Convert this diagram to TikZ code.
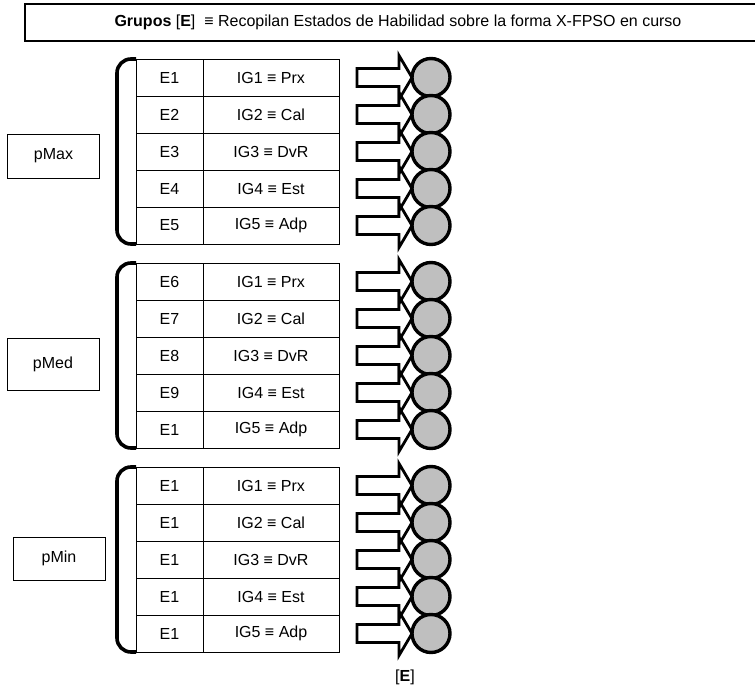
\documentclass[tikz,border=0pt]{standalone}
\usepackage{fontspec}
\setmainfont{Liberation Sans}
\usetikzlibrary{positioning,calc}

% abreviatura de cada indicador
\newcommand{\abrev}[1]{\ifcase#1\or Prx\or Cal\or DvR\or Est\or Adp\fi}

\begin{document}
\begin{tikzpicture}[
    x=1pt, y=-1pt,
    celda/.style={rectangle, draw, line width=0.9pt, outer sep=0pt, inner sep=0pt, minimum height=37pt, font=\fontsize{16}{18}\selectfont},
    estado/.style={celda, minimum width=67pt},
    indicador/.style={celda, minimum width=136pt},
    nivel/.style={rectangle, draw, line width=1pt, minimum width=92pt, font=\fontsize{16}{18}\selectfont},
    llave/.style={line width=3.6pt, rounded corners=14pt},
    flecha/.style={draw, line width=2.8pt, line join=miter},
    esfera/.style={circle, draw, line width=3.4pt, fill=black!25, minimum size=38pt, inner sep=0pt}
]
\useasboundingbox (0,0) rectangle (755,685);

% Cabecera
\draw[line width=1.6pt] (25,4) rectangle (775,41);
\node[font=\fontsize{16}{18}\selectfont] (titulo) at (398,22.5) {\textbf{Grupos} [\textbf{E}] \ ≡ Recopilan Estados de Habilidad sobre la forma X-FPSO en curso};

% Niveles
\node[nivel, minimum height=44pt] (pmax) at (53.5,156) {pMax};
\node[nivel, minimum height=52pt] (pmed) at (53,364) {pMed};
\node[nivel, minimum height=43pt] (pmin) at (59,558.5) {pMin};

% Grupos de estados
\foreach \gy/\g/\estados in {59/1/{E1,E2,E3,E4,E5}, 263/2/{E6,E7,E8,E9,E1}, 467/3/{E1,E1,E1,E1,E1}} {
  \draw[llave] (136,\gy) -- (117,\gy) -- (117,\gy+185) -- (136,\gy+185);
  \foreach \et [count=\r] in \estados {
    \pgfmathsetmacro{\yc}{\gy+37*\r-18.5}
    \node[estado] (e-\g-\r) at (169.5,\yc) {\et};
    \node[indicador, right=0pt of e-\g-\r] (ig-\g-\r) {IG\r{} ≡ \abrev{\r}};
    \draw[flecha] (357,\yc-9) -- (399,\yc-9) -- (399,\yc-22) -- (412,\yc)
      -- (399,\yc+22) -- (399,\yc+9) -- (357,\yc+9) -- cycle;
  }
  \foreach \r in {1,...,5} {
    \node[esfera] (s-\g-\r) at (431,\gy+37*\r-18.5) {};
  }
}

% Etiqueta inferior
\node[font=\fontsize{16}{18}\selectfont, below=12pt of s-3-5, xshift=-26pt] (grupo) {[\textbf{E}]};

\end{tikzpicture}
\end{document}
